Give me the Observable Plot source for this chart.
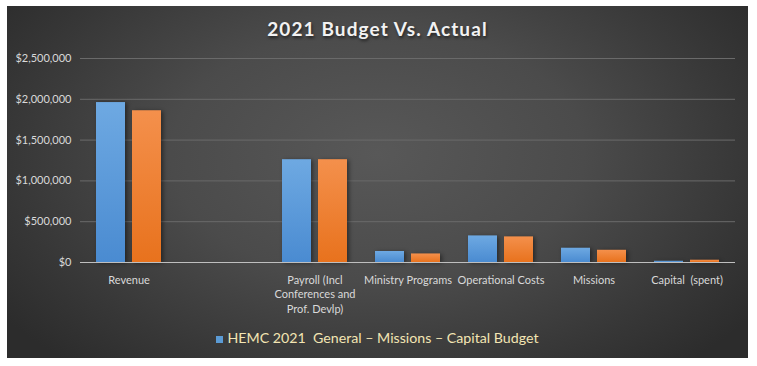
<!DOCTYPE html>
<html><head><meta charset="utf-8">
<script src="https://cdn.jsdelivr.net/npm/d3@7"></script>
<script src="https://cdn.jsdelivr.net/npm/@observablehq/plot@0.6"></script>
<style>
html,body{margin:0;padding:0;background:#fff;}
body{width:757px;height:366px;overflow:hidden;position:relative;}
#chart{position:absolute;left:7px;top:6px;width:741px;height:352px;
  background:radial-gradient(ellipse 62% 80% at 50% 42%, #585858 0%, #4b4b4b 45%, #373737 80%, #2c2c2c 100%);
  font-family:Lato, "Open Sans", sans-serif;overflow:hidden;}
#title{position:absolute;left:0;top:13px;width:100%;text-align:center;color:#f2f2f2;
  font-weight:bold;font-size:19px;line-height:1;letter-spacing:1.1px;text-shadow:1px 2px 3px rgba(0,0,0,0.55);}
#legend{position:absolute;left:0;top:325px;width:100%;text-align:center;color:#f3e5b3;font-size:14.2px;line-height:1;white-space:pre;}
#legend .sw{display:inline-block;width:7px;height:7px;background:#5b9bd5;margin-right:4px;vertical-align:baseline;}
#plot{position:absolute;left:0;top:0;}
#plot g[aria-label="bar"] rect{filter:drop-shadow(2px 1px 2px rgba(0,0,0,0.45));}
</style>
</head><body>
<div id="chart">
  <div id="plot"></div>
  <div id="title"></div>
  <div id="legend"></div>
</div>
<script>
const titleText = "2021 Budget Vs. Actual";
const categories = [
  "Revenue",
  " ",
  "Payroll (Incl\nConferences and\nProf. Devlp)",
  "Ministry Programs",
  "Operational Costs",
  "Missions",
  "Capital  (spent)"
];
const budget = [1960000, null, 1260000, 135000, 326000, 175000, 15000];
const actual = [1860000, null, 1260000, 105000, 314000, 150000, 28000];
const yTicks = [0, 500000, 1000000, 1500000, 2000000, 2500000];
const legendLabel = "HEMC 2021  General \u2013 Missions \u2013 Capital Budget";

const rows = categories.map((c, i) => ({category: c, budget: budget[i], actual: actual[i]}));

const plot = Plot.plot({
  width: 741,
  height: 300,
  marginTop: 52,
  marginBottom: 44,
  marginLeft: 73,
  marginRight: 13,
  style: {background: "transparent", color: "#d9d9d9", fontFamily: "Lato, 'Open Sans', sans-serif", fontSize: "11px", overflow: "visible"},
  x: {domain: categories, paddingInner: 0.305, paddingOuter: 0.1525, label: null},
  y: {domain: [0, 2500000], label: null},
  marks: [
    Plot.ruleY(yTicks.filter(d => d > 0), {stroke: "#6a6a6a", strokeWidth: 1}),
    Plot.barY(rows.filter(d => d.budget != null), {x: "category", y: "budget", fill: "url(#gBlue)", insetRight: 36}),
    Plot.barY(rows.filter(d => d.actual != null), {x: "category", y: "actual", fill: "url(#gOrange)", insetLeft: 36}),
    Plot.ruleY([0], {stroke: "#bfbfbf", strokeWidth: 1}),
    Plot.axisY({ticks: yTicks, tickFormat: d3.format("$,"), tickSize: 0, tickPadding: 9, label: null, fill: "#d9d9d9"}),
    Plot.axisX({tickSize: 0, tickPadding: 11, lineHeight: 1.32, label: null, fill: "#d9d9d9"})
  ]
});

d3.select(plot).insert("defs", ":first-child").html(`
  <linearGradient id="gBlue" x1="0" y1="0" x2="0" y2="1">
    <stop offset="0" stop-color="#6ea9e2"/>
    <stop offset="1" stop-color="#4a8bd1"/>
  </linearGradient>
  <linearGradient id="gOrange" x1="0" y1="0" x2="0" y2="1">
    <stop offset="0" stop-color="#f4904c"/>
    <stop offset="1" stop-color="#e8721d"/>
  </linearGradient>`);

document.getElementById("plot").appendChild(plot);
document.getElementById("title").textContent = titleText;
const lg = document.getElementById("legend");
const sw = document.createElement("span");
sw.className = "sw";
lg.appendChild(sw);
lg.appendChild(document.createTextNode(legendLabel));
</script>
</body></html>
